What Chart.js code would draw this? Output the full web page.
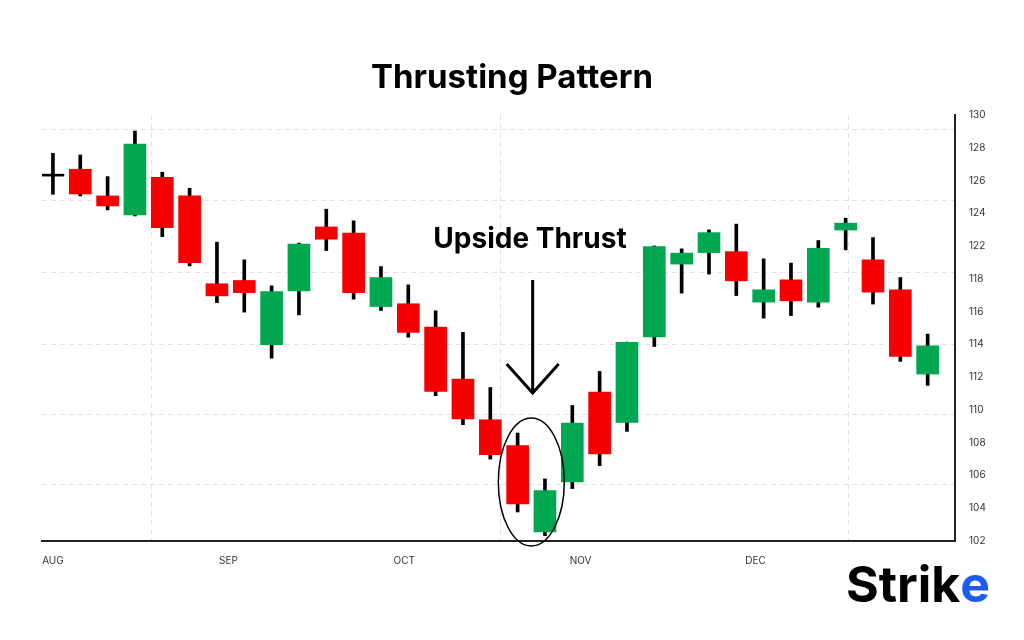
<!DOCTYPE html>
<html>
<head>
<meta charset="utf-8">
<script src="https://cdn.jsdelivr.net/npm/chart.js@4"></script>
<style>
  body { margin: 0; background: #fff; }
  canvas { display: block; }
</style>
</head>
<body>
<canvas id="chart" width="1024" height="640"></canvas>
<script>
// candle values, in axis units (the axis labels skip 120)
const opens  = [126.33,126.69,125.06,123.90,126.20,125.06,119.70,119.90,115.98,119.27,123.17,122.79,118.31,118.48,117.05,113.88,111.40,109.82,104.55,107.60,113.09,111.24,116.45,120.90,121.60,121.66,118.58,119.94,118.58,122.98,121.16,119.33,114.19];
const closes = [126.33,125.18,124.45,128.23,123.13,120.99,118.96,119.16,119.23,122.12,122.42,119.16,120.08,116.73,113.13,111.45,109.27,106.26,107.07,111.20,109.31,116.12,121.97,121.57,122.82,119.88,119.33,118.66,121.87,123.40,119.19,115.26,115.91];
const highs  = [127.66,127.56,126.24,129.02,126.51,125.53,122.24,121.16,119.57,122.18,124.25,123.54,120.75,119.63,118.05,116.73,113.37,110.59,107.79,112.27,114.35,116.14,122.01,121.83,122.99,123.34,121.22,120.96,122.34,123.70,122.52,120.08,116.63];
const lows   = [125.16,125.06,124.21,123.84,122.58,120.79,118.55,117.97,115.16,117.80,121.73,118.76,118.07,116.44,112.87,111.10,109.00,105.77,104.33,107.20,108.60,110.69,115.87,119.13,120.29,118.98,117.60,117.76,118.27,121.77,118.46,114.96,113.50];

const priceTicks = ["130","128","126","124","122","118","116","114","112","110","108","106","104","102"];
const monthLabels = ["AUG","SEP","OCT","NOV","DEC"];
const monthPos = [0, 6.42, 12.85, 19.3, 25.7];
const vGridPos = [3.59, 16.36, 29.09];
const hGridPos = [129.09, 124.8, 120.37, 115.98, 111.7, 107.44];

const RED = "#f40000", GREEN = "#00a650";
const bodyColors = opens.map((o, i) => closes[i] >= o ? GREEN : RED);

const wickData = highs.map((h, i) => ({ x: i, y: [lows[i], h] }));
const bodyData = opens.map((o, i) => {
    let a = Math.min(o, closes[i]), b = Math.max(o, closes[i]);
    if (b - a < 0.12) { a -= 0.06; b += 0.06; } // doji still shows a line
    return { x: i, y: [a, b] };
});
const dojiColor = bodyData.map((d, i) => opens[i] === closes[i] ? "#000" : bodyColors[i]);

// month labels and vertical grid lines share one axis
const xTickPos = monthPos.concat(vGridPos).sort((a, b) => a - b);

// title, annotation, logo
const decor = {
    id: "decor",
    afterDraw(chart) {
        const c = chart.ctx, x = chart.scales.x, y = chart.scales.y;
        c.save();
        c.fillStyle = "#000";
        c.textAlign = "center";
        c.textBaseline = "middle";
        c.font = "bold 33px Inter";
        c.fillText("Thrusting Pattern", 512, 78);

        c.font = "bold 28px Inter";
        c.fillText("Upside Thrust", 530, 240);

        // arrow
        const ax = x.getPixelForValue(17.55);
        c.strokeStyle = "#000";
        c.lineWidth = 3;
        c.beginPath();
        c.moveTo(ax, 280); c.lineTo(ax, 393);
        c.moveTo(ax - 26, 364); c.lineTo(ax, 393); c.lineTo(ax + 26, 364);
        c.stroke();

        // ellipse around the pattern
        c.lineWidth = 1.5;
        c.beginPath();
        c.ellipse(x.getPixelForValue(17.5), y.getPixelForValue(107.6), 33, 64, 0, 0, Math.PI * 2);
        c.stroke();

        // logo
        c.textAlign = "left";
        c.font = "bold 50px Inter";
        c.fillStyle = "#000";
        c.fillText("Strik", 846, 587);
        const w = c.measureText("Strik").width;
        c.fillStyle = "#1e5bf0";
        c.fillText("e", 846 + w, 587);
        c.restore();
    }
};

new Chart(document.getElementById("chart"), {
    type: "bar",
    data: {
        datasets: [
            { data: wickData, backgroundColor: "#000", barThickness: 3, xAxisID: "x", yAxisID: "y", order: 2 },
            { data: bodyData, backgroundColor: dojiColor, barThickness: 22, xAxisID: "x", yAxisID: "y", order: 1 }
        ]
    },
    options: {
        responsive: false,
        animation: false,
        datasets: { bar: { grouped: false } },
        layout: { padding: { left: 42, top: 115, right: 0, bottom: 0 } },
        plugins: { legend: { display: false }, tooltip: { enabled: false } },
        scales: {
            x: {
                type: "linear", min: -0.4, max: 33, offset: false,
                grid: {
                    offset: false,
                    drawTicks: false,
                    color: ctx => (ctx.tick && vGridPos.includes(ctx.tick.value)) ? "#e2e2e2" : "rgba(0,0,0,0)"
                },
                border: { color: "#222", width: 2, dash: [5, 4] },
                afterBuildTicks: s => { s.ticks = xTickPos.map(v => ({ value: v })); },
                afterFit: s => { s.height = 99; },
                ticks: {
                    callback: v => { const i = monthPos.indexOf(v); return i >= 0 ? monthLabels[i] : ""; },
                    autoSkip: false,
                    color: "#333", font: { family: "Inter", size: 10 }, maxRotation: 0, padding: 14
                }
            },
            y: {
                position: "right", min: 104, max: 130,
                afterBuildTicks: s => { s.ticks = priceTicks.map((t, i) => ({ value: 130 - 2 * i })); },
                afterFit: s => { s.width = 69; },
                grid: { display: false },
                border: { color: "#222", width: 2 },
                ticks: {
                    callback: (v, i) => priceTicks[i],
                    color: "#333", font: { family: "Inter", size: 10 }, padding: 6
                }
            },
            yg: {
                position: "left", min: 104, max: 130,
                afterBuildTicks: s => { s.ticks = hGridPos.map(v => ({ value: v })); },
                afterFit: s => { s.width = 0; },
                ticks: { display: false },
                border: { display: false, dash: [5, 4] },
                grid: { color: "#e2e2e2", drawTicks: false }
            }
        }
    },
    plugins: [decor]
});
</script>
</body>
</html>
